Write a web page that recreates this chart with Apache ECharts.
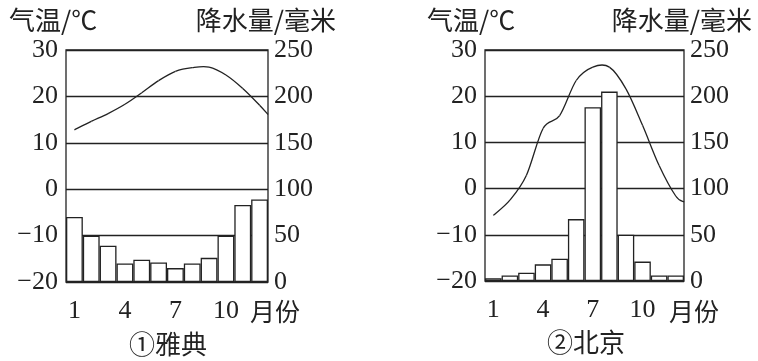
<!DOCTYPE html>
<html><head><meta charset="utf-8">
<script src="https://cdn.jsdelivr.net/npm/echarts@6/dist/echarts.min.js"></script>
<style>html,body{margin:0;padding:0;background:#fff;}#c{width:758px;height:361px;}</style>
</head><body><div id="c"></div>
<script>
const months = ['1','2','3','4','5','6','7','8','9','10','11','12'];
const tempTicks = [-20,-10,0,10,20,30];
const precipTicks = [0,50,100,150,200,250];
// Athens
const athensTemp = [12.8,14.6,16.3,18.3,20.8,23.4,25.4,26.2,26.3,24.6,21.7,18.1];
const athensTempEdge = 16.1; // curve value read at right frame edge
const athensPrecip = [70,50,39,20,24,21,15,20,26,50,83,89];
// Beijing
const beijingTemp = [-5.8,-2.5,2.9,13.0,15.8,23.4,26.3,26.3,21.6,13.7,5.0,-1.6];
const beijingTempEdge = -2.9;
const beijingPrecip = [3,6,9,18,24,67,188,205,50,21,6,6];

const FONT_NUM = "'Liberation Serif','Times New Roman',serif";
const FONT_CJK = "'Noto Sans CJK SC',sans-serif";
const INK = '#222';

function curve(vals, edge){
  const d = vals.map((v,i)=>[i+1, v]);
  d.push([12.5, edge]);
  return d;
}
function minus(v){ return String(v).replace('-', '\u2212'); }

const grids = [
  {left:66, top:50, width:202, height:232},
  {left:485, top:50, width:199, height:231}
];
const sets = [
  {temp: athensTemp, edge: athensTempEdge, precip: athensPrecip},
  {temp: beijingTemp, edge: beijingTempEdge, precip: beijingPrecip}
];

function splineRenderer(data){
  return function(params, api){
    if (params.dataIndex !== 0) return null;
    const pts = data.map(p => api.coord(p));
    const children = [];
    for (let i = 0; i < pts.length - 1; i++){
      const p0 = pts[i-1] || pts[i], p1 = pts[i], p2 = pts[i+1], p3 = pts[i+2] || pts[i+1];
      children.push({
        type:'bezierCurve',
        shape:{
          x1:p1[0], y1:p1[1], x2:p2[0], y2:p2[1],
          cpx1:p1[0] + (p2[0]-p0[0])/6, cpy1:p1[1] + (p2[1]-p0[1])/6,
          cpx2:p2[0] - (p3[0]-p1[0])/6, cpy2:p2[1] - (p3[1]-p1[1])/6
        },
        style:{fill:null, stroke:INK, lineWidth:1.3}
      });
    }
    return {type:'group', children};
  };
}

const option = {
  animation:false,
  backgroundColor:'#fff',
  grid: grids.map(g=>Object.assign({show:true, borderColor:INK, borderWidth:1.3, backgroundColor:'transparent'}, g)),
  xAxis: [],
  yAxis: [],
  series: [],
  graphic: []
};
sets.forEach((s, k)=>{
  option.xAxis.push({
    type:'category', data:months, gridIndex:k, boundaryGap:true,
    axisLine:{show:false}, axisTick:{show:false}, splitLine:{show:false},
    axisLabel:{interval:2, fontSize:26, fontFamily:FONT_NUM, color:INK, margin:16}
  });
  option.xAxis.push({type:'value', gridIndex:k, min:0.5, max:12.5, show:false});
  option.yAxis.push({
    type:'value', gridIndex:k, min:tempTicks[0], max:tempTicks[tempTicks.length-1], interval:10,
    axisLine:{show:false}, axisTick:{show:false},
    splitLine:{show:true, lineStyle:{color:INK, width:1.3}},
    axisLabel:{fontSize:26, fontFamily:FONT_NUM, color:INK, margin:8, formatter:minus}
  });
  option.yAxis.push({
    type:'value', gridIndex:k, position:'right', min:precipTicks[0], max:precipTicks[precipTicks.length-1], interval:50,
    axisLine:{show:false}, axisTick:{show:false}, splitLine:{show:false},
    axisLabel:{fontSize:26, fontFamily:FONT_NUM, color:INK, margin:6}
  });
  option.series.push({
    type:'bar', xAxisIndex:2*k, yAxisIndex:2*k+1, data:s.precip, barWidth:'100%', barGap:'0%',
    itemStyle:{color:'#fff', borderColor:INK, borderWidth:1.3}, z:3
  });
  const cd = curve(s.temp, s.edge);
  option.series.push({
    type:'custom', coordinateSystem:'cartesian2d', xAxisIndex:2*k+1, yAxisIndex:2*k,
    data:cd, renderItem:splineRenderer(cd), z:4, silent:true
  });
});

function txt(text, x, y, align, size){
  return {type:'text', x, y, style:{text, fontSize:size, fontFamily:FONT_CJK, fill:INK, align, verticalAlign:'middle'}};
}
option.graphic = [
  txt('气温/℃', 9, 20, 'left', 26),
  txt('降水量/毫米', 336, 20, 'right', 26),
  txt('月份', 250, 311, 'left', 25),
  txt('①雅典', 168, 344, 'center', 26),
  txt('气温/℃', 427, 20, 'left', 26),
  txt('降水量/毫米', 752, 20, 'right', 26),
  txt('月份', 669, 311, 'left', 25),
  txt('②北京', 586, 342, 'center', 26)
];

const chart = echarts.init(document.getElementById('c'), null, {renderer:'canvas'});
chart.setOption(option);
</script></body></html>
